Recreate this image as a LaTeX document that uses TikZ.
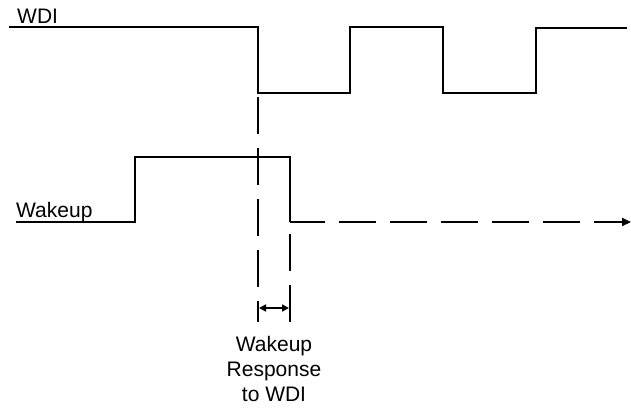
\documentclass[tikz,border=0pt]{standalone}
\usepackage{fontspec}
\setmainfont{Liberation Sans}
\usetikzlibrary{arrows.meta}
\tikzset{
  wave/.style={line width=2bp, line join=miter},
  guide/.style={line width=2bp, dash pattern=on 37bp off 14bp},
  lbl/.style={inner sep=0pt, font=\fontsize{21bp}{25bp}\selectfont},
}
\begin{document}
\begin{tikzpicture}[x=1bp,y=-1bp]
\useasboundingbox (0,0) rectangle (631,407);
% WDI waveform
\coordinate (w0) at (9,27);
\coordinate (w1) at (258,27);
\coordinate (w2) at (258,93);
\coordinate (w3) at (350,93);
\coordinate (w4) at (350,27);
\coordinate (w5) at (443,27);
\coordinate (w6) at (443,93);
\coordinate (w7) at (536,93);
\coordinate (w8) at (536,28);
\coordinate (w9) at (627,28);
\draw[wave] (w0) -- (w1) -- (w2) -- (w3) -- (w4) -- (w5) -- (w6) -- (w7) -- (w8) -- (w9);
% Wakeup waveform
\coordinate (k0) at (16,222);
\coordinate (k1) at (135,222);
\coordinate (k2) at (135,157);
\coordinate (k3) at (290,157);
\coordinate (k4) at (290,222);
\coordinate (k5) at (631,222);
\draw[wave] (k0) -- (k1) -- (k2) -- (k3) -- (k4);
\draw[guide, dash phase=2bp, -{Triangle[length=9bp,width=8bp]}] (k4) -- (k5);
% guide lines
\coordinate (g1a) at (258,97);
\coordinate (g1b) at (258,322);
\coordinate (g2a) at (290,234);
\coordinate (g2b) at (290,322);
\draw[guide] (g1a) -- (g1b);
\draw[guide] (g2a) -- (g2b);
% response arrow
\coordinate (a1) at (259,308);
\coordinate (a2) at (289,308);
\draw[line width=1.6bp, {Triangle[length=7bp,width=7bp]}-{Triangle[length=7bp,width=7bp]}] (a1) -- (a2);
% labels
\node[lbl, anchor=base west] (wdi) at (17,23) {WDI};
\node[lbl, anchor=base west] (wake) at (16,217) {Wakeup};
\node[lbl, anchor=north, align=center] (resp) at (274,336) {Wakeup\\Response\\to WDI};
\end{tikzpicture}
\end{document}
